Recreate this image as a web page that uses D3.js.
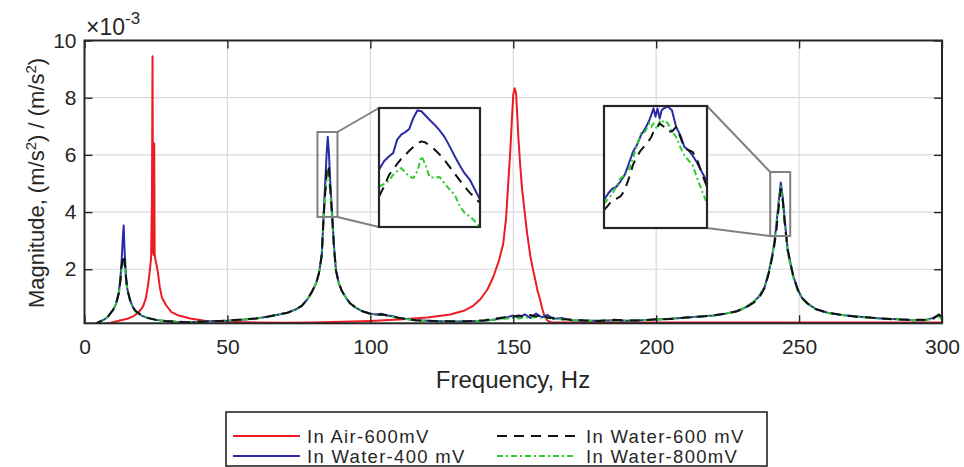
<!DOCTYPE html>
<html><head><meta charset="utf-8">
<script src="https://cdn.jsdelivr.net/npm/d3@7"></script>
<style>
body{margin:0;background:#fff}
text{font-family:"Liberation Sans",Arial,Helvetica,sans-serif;fill:#262626}
</style>
</head><body><svg id="c" width="964" height="467"></svg>
<script>
// ---------- data ----------
const xTicks = [0, 50, 100, 150, 200, 250, 300];
const yTicks = [2, 4, 6, 8, 10];
const seriesNames = ["In Air-600mV", "In Water-600 mV", "In Water-400 mV", "In Water-800mV"];

const waterFreq = [
  3,5,7,8,9,10,11,12,12.5,13,
  13.4,13.7,14,14.5,15,16,17,18,20,22,
  25,28,32,36,40,45,50,55,60,64,
  68,71,74,76,78,79.5,81,82,83,83.7,
  84.3,84.8,85.1,85.5,86,86.6,87.3,88,89,90,
  91.5,93,95,97.5,100,102,104,106,108,110,
  113,116,120,125,130,135,140,144,147,150,
  152,154,156,158,160,162,164,167,170,175,
  180,185,190,195,200,205,210,215,220,224,
  228,231,234,236,238,239.5,241,242,242.8,243.6,
  244.3,245,246,247,248,249.5,251,253,256,260,
  265,270,275,280,285,290,294,297,299,300];
const water400 = [
  0.05,0.15,0.25,0.32,0.45,0.58,0.78,1.2,1.6,2.3,
  3.1,3.53,2.7,1.8,1.3,0.9,0.66,0.53,0.38,0.3,
  0.23,0.19,0.16,0.15,0.16,0.18,0.2,0.23,0.28,0.34,
  0.42,0.48,0.6,0.72,0.95,1.2,1.5,1.85,2.5,4.0,
  5.2,6.2,6.63,6.1,5.0,4.0,2.8,1.95,1.5,1.25,
  1.0,0.8,0.65,0.52,0.45,0.42,0.44,0.38,0.36,0.3,
  0.26,0.22,0.2,0.18,0.17,0.18,0.2,0.25,0.3,0.38,
  0.3,0.42,0.3,0.45,0.32,0.4,0.26,0.3,0.22,0.2,
  0.2,0.22,0.2,0.22,0.24,0.27,0.3,0.35,0.38,0.44,
  0.53,0.65,0.85,1.05,1.4,1.95,2.7,3.5,4.3,5.03,
  4.5,3.7,2.7,2.2,1.75,1.3,1.0,0.8,0.6,0.48,
  0.4,0.35,0.3,0.27,0.25,0.22,0.22,0.3,0.4,0.25];
const water600 = [
  0.05,0.15,0.25,0.32,0.45,0.58,0.78,1.15,1.55,2.1,
  2.4,2.5,2.3,1.7,1.28,0.9,0.66,0.53,0.38,0.3,
  0.23,0.19,0.17,0.15,0.16,0.18,0.21,0.24,0.28,0.34,
  0.42,0.48,0.6,0.72,0.95,1.2,1.5,1.85,2.5,3.9,
  4.8,5.5,5.64,5.5,4.8,3.9,2.75,1.95,1.5,1.25,
  1.0,0.8,0.65,0.52,0.44,0.4,0.42,0.38,0.34,0.3,
  0.25,0.22,0.2,0.18,0.18,0.19,0.22,0.28,0.32,0.35,
  0.38,0.33,0.4,0.35,0.42,0.3,0.3,0.25,0.24,0.21,
  0.19,0.23,0.21,0.21,0.25,0.26,0.31,0.34,0.39,0.45,
  0.52,0.64,0.82,1.0,1.35,1.9,2.6,3.3,4.1,4.8,
  4.4,3.6,2.7,2.2,1.75,1.3,1.0,0.8,0.6,0.48,
  0.4,0.34,0.31,0.27,0.24,0.23,0.23,0.28,0.42,0.28];
const water800 = [
  0.05,0.15,0.25,0.32,0.45,0.58,0.78,1.12,1.5,2.0,
  2.25,2.3,2.15,1.65,1.25,0.88,0.65,0.52,0.38,0.3,
  0.23,0.2,0.16,0.15,0.16,0.18,0.2,0.23,0.28,0.34,
  0.42,0.48,0.6,0.72,0.95,1.2,1.5,1.85,2.45,3.8,
  4.7,5.2,5.36,5.2,4.7,3.8,2.7,1.9,1.5,1.25,
  1.0,0.8,0.65,0.52,0.44,0.41,0.4,0.37,0.34,0.3,
  0.25,0.21,0.19,0.17,0.17,0.18,0.2,0.24,0.27,0.3,
  0.28,0.32,0.3,0.33,0.3,0.3,0.26,0.25,0.22,0.2,
  0.2,0.21,0.2,0.22,0.24,0.27,0.3,0.35,0.38,0.44,
  0.53,0.66,0.86,1.05,1.4,1.95,2.7,3.5,4.25,4.89,
  4.3,3.55,2.6,2.1,1.7,1.25,0.98,0.78,0.6,0.47,
  0.4,0.35,0.3,0.27,0.25,0.22,0.22,0.27,0.35,0.25];

const airFreq = [
  3,6,9,12,15,17,19,20.5,21.5,22.3,
  22.9,23.3,23.6,23.8,24.0,24.2,24.4,24.55,24.7,25.0,
  25.6,26.3,27.1,28.5,30.4,33,37,42,50,60,
  70,80,90,100,110,120,128,133,136,138.5,
  141,143,145,146.5,147.5,148.3,149,149.5,150,150.5,
  151,151.8,152.4,153,154,154.8,156,157,157.7,158.5,
  159.4,160.2,161,162,163,170,180,200,220,250,
  280,300];
const air600 = [
  0.05,0.08,0.12,0.2,0.27,0.35,0.5,0.7,1.0,1.5,
  2.0,2.4,4.5,9.45,2.6,2.5,6.4,2.5,2.4,2.25,
  1.95,1.4,1.0,0.75,0.5,0.38,0.28,0.2,0.16,0.14,
  0.13,0.14,0.16,0.19,0.24,0.31,0.42,0.56,0.72,0.95,
  1.3,1.73,2.3,2.9,3.8,5.1,6.2,7.2,8.1,8.33,
  8.15,6.6,5.7,4.9,4.0,3.3,2.44,1.95,1.63,1.25,
  0.93,0.6,0.34,0.2,0.15,0.14,0.14,0.14,0.14,0.14,
  0.14,0.14];

// inset 1 (zoom on the ~85 Hz peak)
const inset1Freq = [84.2,84.3,84.4,84.48,84.56,84.64,84.72,84.8,84.88,84.96,85.04,85.12,85.2,85.3,85.4,85.5,85.6,85.7,85.8,85.9,86.0,86.1,86.2];
const inset1W400 = [4.91,5.15,5.29,5.38,5.76,5.90,5.97,6.06,6.37,6.58,6.56,6.44,6.32,6.18,6.02,5.83,5.57,5.29,5.03,4.80,4.63,4.35,4.07];
const inset1W600 = [4.16,4.44,4.77,4.91,5.08,5.22,5.32,5.45,5.55,5.65,5.71,5.68,5.59,5.48,5.34,5.18,4.99,4.80,4.61,4.43,4.26,4.12,3.98];
const inset1W800 = [4.44,4.51,4.61,4.77,4.87,4.96,4.84,4.71,4.68,4.87,5.29,5.06,4.71,4.68,4.71,4.52,4.35,4.21,3.88,3.69,3.60,3.46,3.30];
const inset1XDomain = [84.2, 86.2], inset1YDomain = [3.3, 6.65];
const zoomRect1X = [81.5, 88.5], zoomRect1Y = [3.83, 6.8];

// inset 2 (zoom on the ~243 Hz peak)
const inset2Freq = [241.8,241.93,242.06,242.18,242.31,242.44,242.57,242.7,242.82,242.95,243.08,243.21,243.27,243.34,243.4,243.46,243.53,243.59,243.66,243.78,243.91,244.04,244.17,244.3,244.42,244.55,244.68,244.84,245.0];
const inset2W400 = [3.47,3.58,3.66,3.69,3.78,3.89,4.08,4.28,4.39,4.56,4.67,4.81,4.90,5.01,4.87,5.01,4.84,4.98,5.01,5.04,4.98,4.70,4.56,4.36,4.31,4.22,4.11,3.94,3.78];
const inset2W600 = [3.30,3.38,3.47,3.49,3.53,3.63,3.83,4.06,4.20,4.31,4.39,4.48,4.53,4.62,4.66,4.70,4.76,4.73,4.70,4.62,4.62,4.70,4.53,4.34,4.31,4.28,4.17,3.92,3.69];
const inset2W800 = [3.41,3.49,3.58,3.69,3.83,3.89,3.97,4.17,4.39,4.59,4.62,4.76,4.70,4.76,4.70,4.67,4.79,4.76,4.81,4.76,4.62,4.53,4.36,4.22,4.14,4.06,3.86,3.63,3.41];
const inset2XDomain = [241.8, 245.0], inset2YDomain = [3.0, 5.05];
const zoomRect2X = [239.9, 246.9], zoomRect2Y = [3.16, 5.4];

// ---------- styles / layout ----------
const COL = {air:"#ec1c24", w400:"#2b2ba6", w600:"#111111", w800:"#2fcc2f"};
const DASH = {air:null, w400:null, w600:"10,7", w800:"6,3,2,3"};
const LW = 2;
const plot = {l:84.5, r:942, t:40.5, b:323.3};
const ink = "#262626";

const svg = d3.select("#c");
svg.append("rect").attr("width",964).attr("height",467).attr("fill","#fff");

const x = d3.scaleLinear().domain([0,300]).range([plot.l, plot.r]);
const y = d3.scaleLinear().domain([0.11,10]).range([plot.b, plot.t]);

// grid
const grid = svg.append("g");
grid.selectAll(".gx").data(xTicks.slice(1,-1)).join("line")
  .attr("x1",d=>x(d)).attr("x2",d=>x(d)).attr("y1",plot.t).attr("y2",plot.b)
  .attr("stroke","#dadada").attr("stroke-width",1.2);
grid.selectAll(".gy").data(yTicks.slice(0,-1)).join("line")
  .attr("y1",d=>y(d)).attr("y2",d=>y(d)).attr("x1",plot.l).attr("x2",plot.r)
  .attr("stroke","#dadada").attr("stroke-width",1.2);

svg.append("clipPath").attr("id","pc").append("rect")
  .attr("x",plot.l).attr("y",plot.t).attr("width",plot.r-plot.l).attr("height",plot.b-plot.t);

function drawSeries(g, xs, ys, freq, vals, key){
  const line = d3.line().x((d,i)=>xs(freq[i])).y(d=>ys(d));
  const p = g.append("path").datum(vals).attr("d",line).attr("fill","none")
    .attr("stroke",COL[key]).attr("stroke-width",LW).attr("stroke-linejoin","round");
  if (DASH[key]) p.attr("stroke-dasharray",DASH[key]);
}
const lines = svg.append("g").attr("clip-path","url(#pc)");
drawSeries(lines, x, y, airFreq, air600, "air");
drawSeries(lines, x, y, waterFreq, water400, "w400");
drawSeries(lines, x, y, waterFreq, water800, "w800");
drawSeries(lines, x, y, waterFreq, water600, "w600");

// axes (inward ticks, MATLAB style)
const fs = 21;
const gx = svg.append("g").attr("transform",`translate(0,${plot.b})`)
  .call(d3.axisBottom(x).tickValues(xTicks).tickSizeInner(-8).tickSizeOuter(0).tickPadding(16));
const gy = svg.append("g").attr("transform",`translate(${plot.l},0)`)
  .call(d3.axisLeft(y).tickValues(yTicks).tickSizeInner(-8).tickSizeOuter(0).tickPadding(8).tickFormat(d3.format("d")));
const gt = svg.append("g").attr("transform",`translate(0,${plot.t})`)
  .call(d3.axisTop(x).tickValues(xTicks).tickSizeInner(-8).tickSizeOuter(0).tickFormat(""));
const gr = svg.append("g").attr("transform",`translate(${plot.r},0)`)
  .call(d3.axisRight(y).tickValues(yTicks).tickSizeInner(-8).tickSizeOuter(0).tickFormat(""));
[gx,gy,gt,gr].forEach(g=>{
  g.select(".domain").remove();
  g.selectAll("line").attr("stroke",ink).attr("stroke-width",1.4);
  g.selectAll("text").attr("font-size",fs).attr("fill",ink)
    .style("font-family",'"Liberation Sans",Arial,Helvetica,sans-serif');
});
svg.append("rect").attr("x",plot.l).attr("y",plot.t).attr("width",plot.r-plot.l).attr("height",plot.b-plot.t)
  .attr("fill","none").attr("stroke",ink).attr("stroke-width",2);

// exponent
const ex = svg.append("text").attr("x",86).attr("y",35).attr("font-size",23);
ex.append("tspan").text("×10");
ex.append("tspan").attr("dy",-11).attr("font-size",17).text("-3");

// axis labels
svg.append("text").attr("x",513).attr("y",388).attr("text-anchor","middle")
  .attr("font-size",24).text("Frequency, Hz");
const yl = svg.append("text").attr("transform","translate(44,183) rotate(-90)")
  .attr("text-anchor","middle").attr("font-size",22);
yl.append("tspan").text("Magnitude, (m/s");
yl.append("tspan").attr("dy",-8).attr("font-size",15).text("2");
yl.append("tspan").attr("dy",8).text(") / (m/s");
yl.append("tspan").attr("dy",-8).attr("font-size",15).text("2");
yl.append("tspan").attr("dy",8).text(")");

// insets
function inset(box, xd, yd, freq, v400, v600, v800, rx, ry, id, side){
  const xs = d3.scaleLinear().domain(xd).range([box.x0, box.x1]);
  const ys = d3.scaleLinear().domain(yd).range([box.y1, box.y0]);
  const r = {x0:x(rx[0]), x1:x(rx[1]), y0:y(ry[1]), y1:y(ry[0])};
  const g = svg.append("g");
  g.append("rect").attr("x",r.x0).attr("y",r.y0).attr("width",r.x1-r.x0).attr("height",r.y1-r.y0)
    .attr("fill","none").attr("stroke","#808080").attr("stroke-width",2);
  const conn = side==="right"
    ? [[r.x1,r.y0,box.x0,box.y0],[r.x1,r.y1,box.x0,box.y1]]
    : [[box.x1,box.y0,r.x0,r.y0],[box.x1,box.y1,r.x0,r.y1]];
  g.selectAll(".cn").data(conn).join("line")
    .attr("x1",d=>d[0]).attr("y1",d=>d[1]).attr("x2",d=>d[2]).attr("y2",d=>d[3])
    .attr("stroke","#808080").attr("stroke-width",2);
  g.append("rect").attr("x",box.x0).attr("y",box.y0).attr("width",box.x1-box.x0).attr("height",box.y1-box.y0)
    .attr("fill","#fff");
  svg.append("clipPath").attr("id",id).append("rect")
    .attr("x",box.x0).attr("y",box.y0).attr("width",box.x1-box.x0).attr("height",box.y1-box.y0);
  const lg = g.append("g").attr("clip-path",`url(#${id})`);
  drawSeries(lg, xs, ys, freq, v400, "w400");
  drawSeries(lg, xs, ys, freq, v800, "w800");
  drawSeries(lg, xs, ys, freq, v600, "w600");
  g.append("rect").attr("x",box.x0).attr("y",box.y0).attr("width",box.x1-box.x0).attr("height",box.y1-box.y0)
    .attr("fill","none").attr("stroke",ink).attr("stroke-width",2.2);
}
inset({x0:379,x1:480,y0:108,y1:227}, inset1XDomain, inset1YDomain, inset1Freq, inset1W400, inset1W600, inset1W800, zoomRect1X, zoomRect1Y, "ic1", "right");
inset({x0:604,x1:707,y0:106,y1:228}, inset2XDomain, inset2YDomain, inset2Freq, inset2W400, inset2W600, inset2W800, zoomRect2X, zoomRect2Y, "ic2", "left");

// legend
const leg = svg.append("g");
leg.append("rect").attr("x",226).attr("y",412).attr("width",541).attr("height",54)
  .attr("fill","#fff").attr("stroke",ink).attr("stroke-width",1.6);
const legItems = [
  {name:seriesNames[0], key:"air", col:0, row:0},
  {name:seriesNames[1], key:"w600", col:1, row:0},
  {name:seriesNames[2], key:"w400", col:0, row:1},
  {name:seriesNames[3], key:"w800", col:1, row:1}];
const colX = [233, 497], colLen = [67, 78], colText = [307, 586], rowY = [436, 456];
legItems.forEach(it=>{
  const lx = colX[it.col], ly = rowY[it.row];
  const l = leg.append("line").attr("x1",lx).attr("x2",lx+colLen[it.col]).attr("y1",ly).attr("y2",ly)
    .attr("stroke",COL[it.key]).attr("stroke-width",LW);
  if (DASH[it.key]) l.attr("stroke-dasharray",DASH[it.key]);
  leg.append("text").attr("x",colText[it.col]).attr("y",ly+7).attr("font-size",18.5)
    .attr("letter-spacing",1.3).text(it.name);
});
</script>
</body></html>
